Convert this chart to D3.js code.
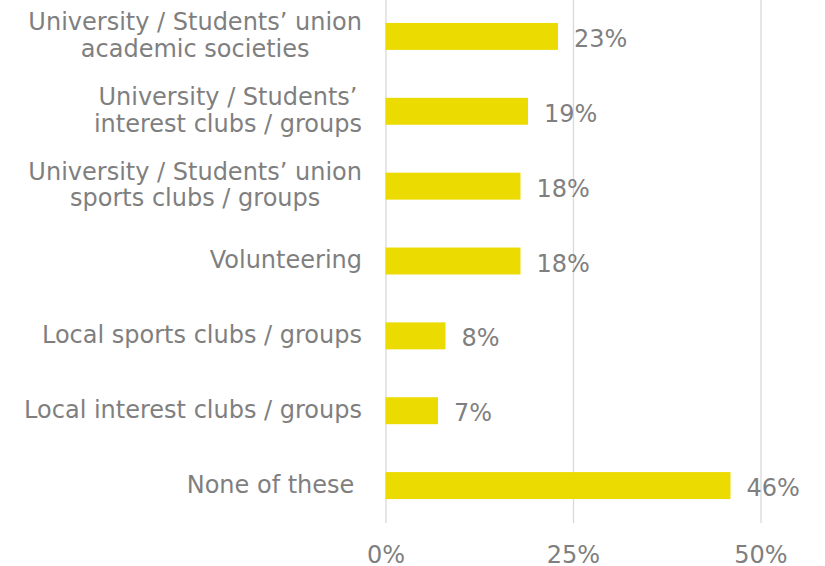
<!DOCTYPE html>
<html>
<head>
<meta charset="utf-8">
<script src="https://cdn.jsdelivr.net/npm/d3@7"></script>
<style>
  html, body { margin: 0; padding: 0; background: #ffffff; }
  svg { display: block; }
  text { font-family: "DejaVu Sans", Verdana, sans-serif; fill: #7f7f7f; }
</style>
</head>
<body>
<svg id="chart" width="825" height="566"></svg>
<script>
// Activities taken part in (share of respondents)
const categories = [
  "University / Students\u2019 union\nacademic societies",
  "University / Students\u2019\ninterest clubs / groups",
  "University / Students\u2019 union\nsports clubs / groups",
  "Volunteering",
  "Local sports clubs / groups",
  "Local interest clubs / groups",
  "None of these "
];
const values = [0.23, 0.19, 0.18, 0.18, 0.08, 0.07, 0.46];
const tickValues = [0, 0.25, 0.5];
const tickLabels = ["0%", "25%", "50%"];

const svg = d3.select("#chart");
const barColor = "#ecdb00";
const gridColor = "#d9d9d9";
const fontSize = 24;

const plotTop = -1, plotBottom = 523;
const x = d3.scaleLinear().domain([0, 0.5]).range([385.5, 760.5]);
const y = d3.scaleBand()
  .domain(categories)
  .range([plotTop, plotBottom])
  .paddingInner(0.64)
  .paddingOuter(0.32);

// Vertical gridlines with percentage tick labels below
const axis = d3.axisBottom(x)
  .tickValues(tickValues)
  .tickSize(-(plotBottom - plotTop))
  .tickPadding(23)
  .tickFormat((d, i) => tickLabels[i]);

const gAxis = svg.append("g")
  .attr("transform", `translate(0,${plotBottom})`)
  .call(axis);
gAxis.select(".domain").remove();
gAxis.selectAll(".tick line").attr("stroke", gridColor).attr("stroke-width", 1.3);
gAxis.selectAll(".tick text")
  .attr("font-family", null)
  .style("font-size", fontSize + "px")
  .attr("dy", null)
  .attr("y", 40)
  .attr("fill", "#7f7f7f");

// Bars
svg.append("g").selectAll("rect")
  .data(values)
  .join("rect")
  .attr("x", x(0))
  .attr("y", (d, i) => y(categories[i]))
  .attr("width", d => x(d) - x(0))
  .attr("height", y.bandwidth())
  .attr("fill", barColor);

// Value labels
svg.append("g").selectAll("text")
  .data(values)
  .join("text")
  .attr("x", d => x(d) + 16)
  .attr("y", (d, i) => y(categories[i]) + y.bandwidth() / 2 + 10.5)
  .style("font-size", fontSize + "px")
  .text(d => Math.round(d * 100) + "%");

// Category labels: lines centred within a block that is right-aligned to the axis
const labelRight = 362;
const lineGap = 26.7;
const gLabels = svg.append("g");
categories.forEach((c, i) => {
  const lines = c.split("\n");
  const cy = y(c) + y.bandwidth() / 2;
  const t = gLabels.append("text")
    .style("font-size", fontSize + "px")
    .style("white-space", "pre")
    .attr("text-anchor", "middle");
  const firstBase = cy + 7 - (lines.length - 1) * lineGap / 2;
  const spans = lines.map((ln, k) => t.append("tspan")
    .attr("y", firstBase + k * lineGap)
    .text(ln));
  const maxW = d3.max(spans, s => s.node().getComputedTextLength());
  spans.forEach(s => s.attr("x", labelRight - maxW / 2));
});
</script>
</body>
</html>
